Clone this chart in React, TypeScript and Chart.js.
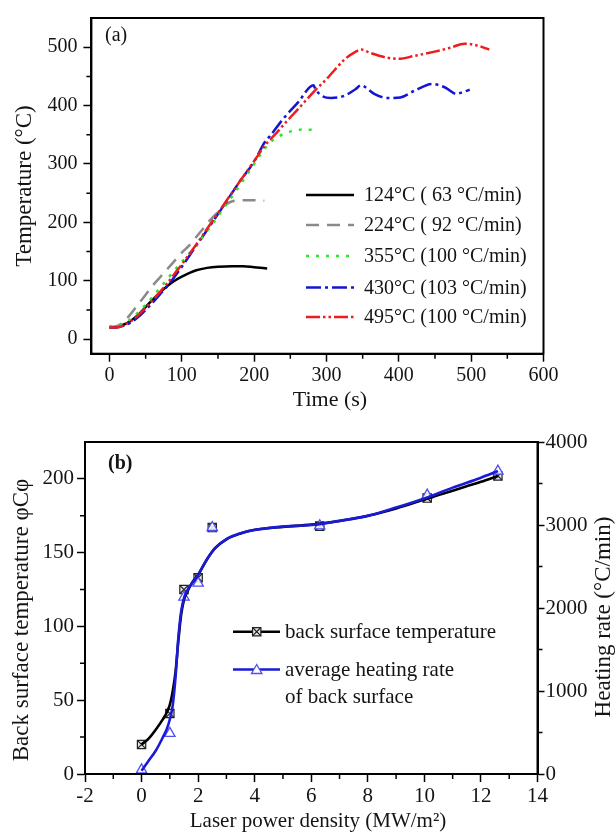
import React, { useEffect, useRef } from 'react';
import { Chart, registerables } from 'chart.js';

Chart.register(...registerables);

const SERIF = '"Liberation Serif", "Times New Roman", Times, serif';

// ---------------- Chart (a) data ----------------
const time124 = [0, 10, 20, 30, 40, 50, 60, 70, 80, 90, 100, 110, 120, 135, 150, 170, 185, 200, 218];
const temp124 = [20, 21, 25, 32, 42, 55, 68, 80, 91, 100, 107, 113, 118, 122, 124, 125, 125, 123, 121];

const time224 = [0, 10, 20, 30, 40, 50, 60, 70, 80, 90, 100, 110, 120, 130, 140, 150, 160, 170, 185, 200, 214];
const temp224 = [20, 22, 30, 44, 60, 76, 92, 106, 120, 134, 148, 160, 175, 190, 205, 218, 230, 236, 238, 238, 237];

const time355 = [0, 10, 20, 30, 40, 50, 60, 70, 80, 90, 100, 110, 120, 140, 160, 180, 200, 215, 225, 240, 255, 270, 284];
const temp355 = [22, 23, 27, 35, 46, 59, 73, 88, 103, 118, 132, 146, 161, 193, 228, 263, 300, 327, 340, 351, 357, 359, 358];

const time430 = [0, 10, 20, 30, 40, 50, 60, 70, 80, 90, 100, 110, 120, 135, 150, 165, 180, 200, 215, 222, 240, 261, 282, 284, 292, 306, 325, 340, 348, 352, 366, 384, 402, 421, 446, 464, 480, 488, 498];
const temp430 = [20, 20, 23, 29, 38, 50, 63, 77, 91, 107, 124, 142, 160, 187, 214, 242, 270, 304, 338, 348, 377, 406, 435, 430, 418, 413, 417, 428, 435, 433, 420, 413, 414, 425, 437, 431, 420, 423, 427];

const time495 = [0, 10, 20, 30, 40, 50, 60, 70, 80, 90, 100, 110, 120, 135, 150, 165, 180, 200, 215, 230, 245, 260, 282, 302, 325, 340, 348, 361, 384, 400, 421, 448, 471, 491, 508, 525];
const temp495 = [20, 20, 24, 31, 41, 54, 67, 81, 96, 112, 128, 145, 162, 189, 216, 243, 270, 305, 332, 352, 373, 393, 423, 448, 479, 492, 496, 490, 482, 480, 485, 492, 499, 506, 503, 496];

const legendLabelsA = [
  '124°C ( 63 °C/min)',
  '224°C ( 92 °C/min)',
  '355°C (100 °C/min)',
  '430°C (103 °C/min)',
  '495°C (100 °C/min)',
];
const timeTicks = [0, 100, 200, 300, 400, 500, 600];
const timeMinorTicks = [50, 150, 250, 350, 450, 550];
const tempTicks = [0, 100, 200, 300, 400, 500];
const tempMinorTicks = [50, 150, 250, 350, 450];

// ---------------- Chart (b) data ----------------
const densityPoints = [0, 1, 1.5, 2, 2.5, 6.3, 10.1, 12.6];
const backTempPoints = [20, 41, 125, 133, 167, 168, 187, 202];
const heatRatePoints = [50, 490, 2130, 2300, 2970, 2990, 3360, 3650];

const densityCurve = [0, 0.25, 0.5, 0.75, 0.9, 1.0, 1.1, 1.2, 1.3, 1.4, 1.5, 1.6, 1.8, 2.0, 2.3, 2.6, 3, 3.5, 4, 5, 6, 7, 8, 9, 10, 11, 12, 12.6];
const backTempCurve = [20, 24, 30, 37, 42, 47, 56, 69, 90, 108, 118, 123, 130, 135, 145, 153, 159, 163, 165.5, 167.5, 169, 171.5, 175, 180, 186, 192, 198, 202];
const heatRateCurve = [40, 160, 280, 440, 550, 660, 820, 1160, 1640, 1960, 2120, 2200, 2310, 2400, 2580, 2720, 2830, 2900, 2940, 2980, 3000, 3050, 3110, 3210, 3320, 3450, 3570, 3650];

const densityTicks = [-2, 0, 2, 4, 6, 8, 10, 12, 14];
const densityMinorTicks = [-1, 1, 3, 5, 7, 9, 11, 13];
const backTempTicks = [0, 50, 100, 150, 200];
const backTempMinorTicks = [25, 75, 125, 175];
const heatRateTicks = [0, 1000, 2000, 3000, 4000];
const heatRateMinorTicks = [500, 1500, 2500, 3500];
const legendLabelsB = ['back surface temperature', 'average heating rate', 'of back surface'];

// ---------------- helpers ----------------
const zip = (xs: number[], ys: number[]) => xs.map((x, i) => ({ x, y: ys[i] }));

const stylesA = [
  { color: '#000000', dash: [] as number[], order: 4 },
  { color: '#8a8a8a', dash: [13, 8], order: 3 },
  { color: '#2ee22e', dash: [3, 7], order: 1 },
  { color: '#1414d6', dash: [15, 4, 3, 4], order: 2 },
  { color: '#ee1c1c', dash: [14, 3, 2.5, 3, 2.5, 3], order: 0 },
];

const TEXT = '#141414';

function tickFont(size: number) {
  return { family: SERIF, size };
}

function drawSquareX(ctx: CanvasRenderingContext2D, x: number, y: number, r: number) {
  const h = r * Math.SQRT1_2;
  ctx.save();
  ctx.fillStyle = '#e6e6e6';
  ctx.strokeStyle = '#222';
  ctx.lineWidth = 1.2;
  ctx.setLineDash([]);
  ctx.beginPath();
  ctx.rect(x - h, y - h, 2 * h, 2 * h);
  ctx.fill();
  ctx.stroke();
  ctx.beginPath();
  ctx.moveTo(x - h, y - h);
  ctx.lineTo(x + h, y + h);
  ctx.moveTo(x + h, y - h);
  ctx.lineTo(x - h, y + h);
  ctx.stroke();
  ctx.restore();
}

function drawTriangle(ctx: CanvasRenderingContext2D, x: number, y: number, r: number) {
  ctx.save();
  ctx.fillStyle = '#ffffff';
  ctx.strokeStyle = '#5050f0';
  ctx.lineWidth = 1.3;
  ctx.setLineDash([]);
  ctx.beginPath();
  let rad = 0;
  ctx.moveTo(x + Math.sin(rad) * r, y - Math.cos(rad) * r);
  rad += (2 * Math.PI) / 3;
  ctx.lineTo(x + Math.sin(rad) * r, y - Math.cos(rad) * r);
  rad += (2 * Math.PI) / 3;
  ctx.lineTo(x + Math.sin(rad) * r, y - Math.cos(rad) * r);
  ctx.closePath();
  ctx.fill();
  ctx.stroke();
  ctx.restore();
}

// ---------------- Chart (a) ----------------
function makeChartA(canvas: HTMLCanvasElement) {
  const H = 420;
  const plotTop = 15;
  const plotBottom = 353.7;
  const plotLeft = 91.4;
  const plotRight = 543.5;

  const seriesX = [time124, time224, time355, time430, time495];
  const seriesY = [temp124, temp224, temp355, temp430, temp495];

  const framePlugin = {
    id: 'frameA',
    afterDraw(chart: any) {
      const { ctx, chartArea: a, scales } = chart;
      ctx.save();
      ctx.strokeStyle = '#000';
      ctx.lineWidth = 2;
      ctx.setLineDash([]);
      ctx.strokeRect(a.left, a.top, a.right - a.left, a.bottom - a.top);

      ctx.lineWidth = 1.5;
      ctx.beginPath();
      timeMinorTicks.forEach((v) => {
        const px = scales.x.getPixelForValue(v);
        ctx.moveTo(px, a.bottom);
        ctx.lineTo(px, a.bottom + 5);
      });
      tempMinorTicks.forEach((v) => {
        const py = scales.y.getPixelForValue(v);
        ctx.moveTo(a.left, py);
        ctx.lineTo(a.left - 5, py);
      });
      ctx.stroke();

      ctx.fillStyle = TEXT;
      ctx.textAlign = 'center';
      ctx.textBaseline = 'middle';
      ctx.font = `22px ${SERIF}`;
      ctx.fillText('Time (s)', 330, 400);
      ctx.save();
      ctx.translate(25, 186);
      ctx.rotate(-Math.PI / 2);
      ctx.font = `23px ${SERIF}`;
      ctx.fillText('Temperature (°C)', 0, 0);
      ctx.restore();

      ctx.font = `20px ${SERIF}`;
      ctx.textAlign = 'left';
      ctx.fillText('(a)', 105, 36);

      const rows = [195, 225, 256, 287.5, 317];
      legendLabelsA.forEach((label, i) => {
        const st = stylesA[i];
        ctx.save();
        ctx.strokeStyle = st.color;
        ctx.lineWidth = 2.5;
        ctx.setLineDash(st.dash);
        ctx.beginPath();
        ctx.moveTo(306, rows[i]);
        ctx.lineTo(354, rows[i]);
        ctx.stroke();
        ctx.restore();
        ctx.font = `20px ${SERIF}`;
        ctx.fillStyle = TEXT;
        ctx.textAlign = 'left';
        ctx.textBaseline = 'middle';
        ctx.fillText(label, 364, rows[i] + 1);
      });
      ctx.restore();
    },
  };

  return new Chart(canvas, {
    type: 'scatter',
    data: {
      datasets: seriesX.map((xs, i) => ({
        label: legendLabelsA[i],
        data: zip(xs, seriesY[i]),
        showLine: true,
        pointRadius: 0,
        borderColor: stylesA[i].color,
        backgroundColor: stylesA[i].color,
        borderWidth: 2.5,
        borderDash: stylesA[i].dash,
        cubicInterpolationMode: 'monotone',
        order: stylesA[i].order,
      })),
    },
    options: {
      responsive: false,
      animation: false,
      layout: { padding: { top: plotTop, right: 616 - plotRight, left: 0, bottom: 0 } },
      plugins: { legend: { display: false }, tooltip: { enabled: false } },
      scales: {
        x: {
          type: 'linear',
          min: -25,
          max: 600,
          afterBuildTicks: (s: any) => {
            s.ticks = timeTicks.map((v) => ({ value: v }));
          },
          afterFit: (s: any) => {
            s.height = H - plotBottom;
          },
          ticks: {
            font: tickFont(20),
            color: TEXT,
            padding: 2,
            maxRotation: 0,
            autoSkip: false,
            callback: (v: any) => String(v),
          },
          grid: { drawOnChartArea: false, tickLength: 8, tickColor: '#000', tickWidth: 1.5 },
          border: { display: true, color: '#000', width: 2 },
        },
        y: {
          type: 'linear',
          min: -25,
          max: 550,
          afterBuildTicks: (s: any) => {
            s.ticks = tempTicks.map((v) => ({ value: v }));
          },
          afterFit: (s: any) => {
            s.width = plotLeft;
          },
          ticks: {
            font: tickFont(20),
            color: TEXT,
            padding: 6,
            autoSkip: false,
            callback: (v: any) => String(v),
          },
          grid: { drawOnChartArea: false, tickLength: 8, tickColor: '#000', tickWidth: 1.5 },
          border: { display: true, color: '#000', width: 2 },
        },
      },
    } as any,
    plugins: [framePlugin],
  });
}

// ---------------- Chart (b) ----------------
function makeChartB(canvas: HTMLCanvasElement) {
  const H = 412;
  const plotTop = 22;
  const plotBottom = 354;
  const plotLeft = 85;
  const plotRight = 537.5;

  const framePlugin = {
    id: 'frameB',
    afterDraw(chart: any) {
      const { ctx, chartArea: a, scales } = chart;
      ctx.save();
      ctx.strokeStyle = '#000';
      ctx.lineWidth = 2;
      ctx.setLineDash([]);
      ctx.strokeRect(a.left, a.top, a.right - a.left, a.bottom - a.top);

      ctx.lineWidth = 1.5;
      ctx.beginPath();
      densityMinorTicks.forEach((v) => {
        const px = scales.x.getPixelForValue(v);
        ctx.moveTo(px, a.bottom);
        ctx.lineTo(px, a.bottom + 5);
      });
      backTempMinorTicks.forEach((v) => {
        const py = scales.yL.getPixelForValue(v);
        ctx.moveTo(a.left, py);
        ctx.lineTo(a.left - 5, py);
      });
      heatRateMinorTicks.forEach((v) => {
        const py = scales.yR.getPixelForValue(v);
        ctx.moveTo(a.right, py);
        ctx.lineTo(a.right + 5, py);
      });
      ctx.stroke();

      ctx.fillStyle = TEXT;
      ctx.textAlign = 'center';
      ctx.textBaseline = 'middle';
      ctx.font = `21px ${SERIF}`;
      ctx.fillText('Laser power density (MW/m²)', 318, 401);
      ctx.save();
      ctx.translate(22, 200);
      ctx.rotate(-Math.PI / 2);
      ctx.font = `23px ${SERIF}`;
      ctx.fillText('Back surface temperature φCφ', 0, 0);
      ctx.restore();
      ctx.save();
      ctx.translate(604, 197);
      ctx.rotate(-Math.PI / 2);
      ctx.font = `23px ${SERIF}`;
      ctx.fillText('Heating rate (°C/min)', 0, 0);
      ctx.restore();

      ctx.font = `bold 20px ${SERIF}`;
      ctx.textAlign = 'left';
      ctx.fillText('(b)', 108, 44);

      // legend
      const rows = [211.7, 249.5, 276.5];
      ctx.save();
      ctx.lineWidth = 2.6;
      ctx.strokeStyle = '#000';
      ctx.beginPath();
      ctx.moveTo(233, rows[0]);
      ctx.lineTo(280, rows[0]);
      ctx.stroke();
      ctx.strokeStyle = '#1a1ad8';
      ctx.beginPath();
      ctx.moveTo(233, rows[1]);
      ctx.lineTo(280, rows[1]);
      ctx.stroke();
      ctx.restore();
      drawSquareX(ctx, 256.7, rows[0], 5.9);
      drawTriangle(ctx, 256.7, rows[1] + 1, 6);

      ctx.font = `21px ${SERIF}`;
      ctx.fillStyle = TEXT;
      ctx.textAlign = 'left';
      ctx.textBaseline = 'middle';
      legendLabelsB.forEach((t, i) => ctx.fillText(t, 285, rows[i] + 1));
      ctx.restore();
    },
  };

  const baseLine = {
    showLine: true,
    pointRadius: 0,
    borderWidth: 2.6,
    cubicInterpolationMode: 'monotone',
  };

  return new Chart(canvas, {
    type: 'scatter',
    data: {
      datasets: [
        {
          ...baseLine,
          label: 'back surface temperature curve',
          data: zip(densityCurve, backTempCurve),
          borderColor: '#000',
          backgroundColor: '#000',
          yAxisID: 'yL',
          order: 1,
        },
        {
          ...baseLine,
          label: 'average heating rate curve',
          data: zip(densityCurve, heatRateCurve),
          borderColor: '#1a1ad8',
          backgroundColor: '#1a1ad8',
          yAxisID: 'yR',
          order: 0,
        },
        {
          label: 'back surface temperature',
          data: zip(densityPoints, backTempPoints),
          showLine: false,
          pointStyle: 'rect',
          pointRadius: 5.9,
          pointBackgroundColor: '#e6e6e6',
          pointBorderColor: '#222',
          pointBorderWidth: 1.2,
          yAxisID: 'yL',
          order: 4,
        },
        {
          label: 'back surface temperature x',
          data: zip(densityPoints, backTempPoints),
          showLine: false,
          pointStyle: 'crossRot',
          pointRadius: 5.9,
          pointBorderColor: '#222',
          pointBorderWidth: 1.2,
          yAxisID: 'yL',
          order: 3,
        },
        {
          label: 'average heating rate',
          data: zip(densityPoints, heatRatePoints),
          showLine: false,
          pointStyle: 'triangle',
          pointRadius: 6,
          pointBackgroundColor: 'rgba(255,255,255,0.85)',
          pointBorderColor: '#5050f0',
          pointBorderWidth: 1.3,
          yAxisID: 'yR',
          order: 2,
        },
      ],
    },
    options: {
      responsive: false,
      animation: false,
      layout: { padding: { top: plotTop, right: 0, left: 0, bottom: 0 } },
      plugins: { legend: { display: false }, tooltip: { enabled: false } },
      scales: {
        x: {
          type: 'linear',
          min: -2,
          max: 14,
          afterBuildTicks: (s: any) => {
            s.ticks = densityTicks.map((v) => ({ value: v }));
          },
          afterFit: (s: any) => {
            s.height = H - plotBottom;
          },
          ticks: {
            font: tickFont(21),
            color: TEXT,
            padding: 2,
            maxRotation: 0,
            autoSkip: false,
            callback: (v: any) => String(v),
          },
          grid: { drawOnChartArea: false, tickLength: 8, tickColor: '#000', tickWidth: 1.5 },
          border: { display: true, color: '#000', width: 2 },
        },
        yL: {
          type: 'linear',
          position: 'left',
          min: 0,
          max: 225,
          afterBuildTicks: (s: any) => {
            s.ticks = backTempTicks.map((v) => ({ value: v }));
          },
          afterFit: (s: any) => {
            s.width = plotLeft;
          },
          ticks: {
            font: tickFont(21),
            color: TEXT,
            padding: 3,
            autoSkip: false,
            callback: (v: any) => String(v),
          },
          grid: { drawOnChartArea: false, tickLength: 8, tickColor: '#000', tickWidth: 1.5 },
          border: { display: true, color: '#000', width: 2 },
        },
        yR: {
          type: 'linear',
          position: 'right',
          min: 0,
          max: 4000,
          afterBuildTicks: (s: any) => {
            s.ticks = heatRateTicks.map((v) => ({ value: v }));
          },
          afterFit: (s: any) => {
            s.width = 616 - plotRight;
          },
          ticks: {
            font: tickFont(21),
            color: TEXT,
            padding: 1,
            autoSkip: false,
            callback: (v: any) => String(v),
          },
          grid: { drawOnChartArea: false, tickLength: 7, tickColor: '#000', tickWidth: 1.5 },
          border: { display: true, color: '#000', width: 2 },
        },
      },
    } as any,
    plugins: [framePlugin],
  });
}

export default function App() {
  const refA = useRef<HTMLCanvasElement>(null);
  const refB = useRef<HTMLCanvasElement>(null);

  useEffect(() => {
    const ca = makeChartA(refA.current as HTMLCanvasElement);
    const cb = makeChartB(refB.current as HTMLCanvasElement);
    return () => {
      ca.destroy();
      cb.destroy();
    };
  }, []);

  return (
    <div style={{ position: 'absolute', left: 0, top: 0, width: 616, height: 832, background: '#fff', overflow: 'hidden' }}>
      <canvas ref={refA} width={616} height={420} style={{ position: 'absolute', left: 0, top: 0, width: 616, height: 420 }} />
      <canvas ref={refB} width={616} height={412} style={{ position: 'absolute', left: 0, top: 420, width: 616, height: 412 }} />
    </div>
  );
}
